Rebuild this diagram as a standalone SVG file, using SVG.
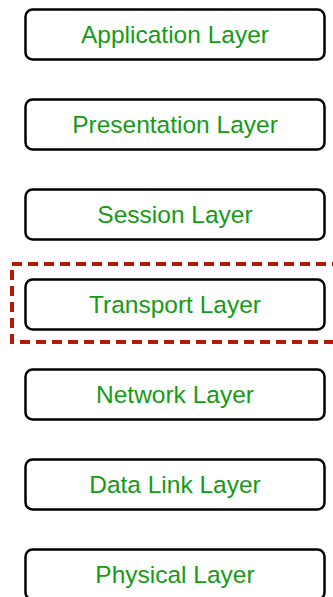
<svg xmlns="http://www.w3.org/2000/svg" width="333" height="597" viewBox="0 0 333 597">
<style>
.box{fill:#fff;stroke:#000;stroke-width:2.5}
.lbl{font-family:"Liberation Sans",Arial,sans-serif;font-size:24.5px;fill:#169b16;text-anchor:middle}
.sel{fill:none;stroke:#b61a04;stroke-width:4;stroke-dasharray:10 6}
</style>
<rect width="333" height="597" fill="#fff"/>
<g id="connectors"></g>
<g id="application"><rect class="box" x="25.5" y="9.5" width="299" height="50" rx="7"/><text class="lbl" x="175" y="42.5">Application Layer</text></g>
<g id="presentation"><rect class="box" x="25.5" y="99.5" width="299" height="50" rx="7"/><text class="lbl" x="175" y="132.5">Presentation Layer</text></g>
<g id="session"><rect class="box" x="25.5" y="189.5" width="299" height="50" rx="7"/><text class="lbl" x="175" y="222.5">Session Layer</text></g>
<g id="transport"><rect class="box" x="25.5" y="279.5" width="299" height="50" rx="7"/><text class="lbl" x="175" y="312.5">Transport Layer</text></g>
<g id="network"><rect class="box" x="25.5" y="369.5" width="299" height="50" rx="7"/><text class="lbl" x="175" y="402.5">Network Layer</text></g>
<g id="datalink"><rect class="box" x="25.5" y="459.5" width="299" height="50" rx="7"/><text class="lbl" x="175" y="492.5">Data Link Layer</text></g>
<g id="physical"><rect class="box" x="25.5" y="549.5" width="299" height="50" rx="7"/><text class="lbl" x="175" y="582.5">Physical Layer</text></g>
<g id="highlight"><rect class="sel" x="12" y="264" width="330" height="78"/></g>
</svg>
